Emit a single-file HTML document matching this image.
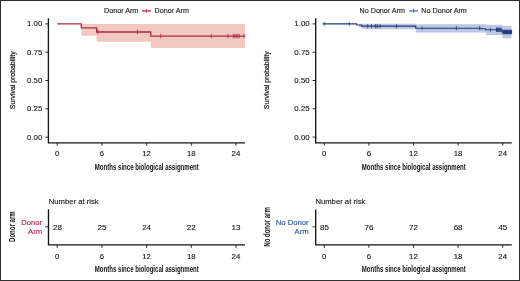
<!DOCTYPE html>
<html>
<head>
<meta charset="utf-8">
<title>Survival probability</title>
<style>
html,body{margin:0;padding:0;background:#fff;}
body{width:520px;height:281px;overflow:hidden;font-family:"Liberation Sans",sans-serif;}
svg{display:block;will-change:transform;}
text{font-family:"Liberation Sans",sans-serif;}
.t{font-size:7.8px;fill:#151515;letter-spacing:0.05px;stroke:#151515;stroke-width:0.12px;}
.n{font-size:8px;fill:#151515;stroke:#151515;stroke-width:0.12px;}
.c{font-size:9px;fill:#111;font-weight:bold;}
.y{font-size:7.7px;fill:#111;stroke:#111;stroke-width:0.2px;}
.ax{stroke:#151515;stroke-width:1.35;fill:none;}
.tk{stroke:#151515;stroke-width:0.9;fill:none;}
</style>
</head>
<body>
<svg width="520" height="281" viewBox="0 0 520 281">
<rect x="0" y="0" width="520" height="281" fill="#fff"/>

<!-- ================= LEFT PLOT ================= -->
<!-- CI band -->
<path d="M81.3,24.1 H245 V47.9 H150.8 V41.8 H96.6 V35.8 H81.3 Z" fill="#f1c9c1"/>
<!-- KM curve -->
<path d="M57.2,23.9 H81.3 V27.9 H96.6 V32 H150.8 V36.2 H245.3" fill="none" stroke="#a82a42" stroke-width="1.3"/>
<!-- censor marks -->
<g stroke="#a82a42" stroke-width="0.8">
<path d="M98,29.7v4.4 M137.5,29.7v4.4 M160.7,33.9v4.4 M211.3,33.9v4.4 M228,33.9v4.4 M233.3,33.9v4.4 M234.8,33.9v4.4 M236.3,33.9v4.4 M237.8,33.9v4.4 M239.2,33.9v4.4 M243.9,33.9v4.4"/>
</g>
<!-- axes -->
<path class="ax" d="M48.4,18.2 V142.9 H245"/>
<path class="tk" d="M45.3,23.9H48 M45.3,52.2H48 M45.3,80.5H48 M45.3,108.8H48 M45.3,137.2H48"/>
<path class="tk" d="M57.2,143v2.7 M101.9,143v2.7 M146.6,143v2.7 M191.3,143v2.7 M236,143v2.7"/>
<g class="t" text-anchor="end">
<text x="42.3" y="26.4">1.00</text>
<text x="42.3" y="54.7">0.75</text>
<text x="42.3" y="83">0.50</text>
<text x="42.3" y="111.3">0.25</text>
<text x="42.3" y="139.6">0.00</text>
</g>
<g class="t" text-anchor="middle">
<text x="57.2" y="156.1">0</text>
<text x="101.9" y="156.1">6</text>
<text x="146.6" y="156.1">12</text>
<text x="191.3" y="156.1">18</text>
<text x="236" y="156.1">24</text>
</g>
<text class="c" x="94.8" y="169.5" textLength="104" lengthAdjust="spacingAndGlyphs">Months since biological assignment</text>
<text class="y" transform="translate(14.5,109.2) rotate(-90)" textLength="57.8" lengthAdjust="spacingAndGlyphs">Survival probability</text>
<!-- legend -->
<text class="t" x="104" y="13.2" style="font-size:7.2px;letter-spacing:0">Donor Arm</text>
<path d="M142,10.9H151" stroke="#c8143f" stroke-width="1.2"/>
<path d="M146.5,9v3.8" stroke="#b01038" stroke-width="0.7"/>
<text class="t" x="154.6" y="13.2" style="font-size:7.2px;letter-spacing:0">Donor Arm</text>

<!-- left risk table -->
<text class="n" x="48.7" y="203.7" style="font-size:7.7px">Number at risk</text>
<path class="ax" d="M48.5,209.2 V244.9 H245"/>
<path class="tk" d="M45.3,226.8H48"/>
<path class="tk" d="M57.2,244.9v2.9 M101.9,244.9v2.9 M146.6,244.9v2.9 M191.3,244.9v2.9 M236,244.9v2.9"/>
<g class="n" text-anchor="middle">
<text x="57.4" y="229.8">28</text>
<text x="101.9" y="229.8">25</text>
<text x="146.6" y="229.8">24</text>
<text x="191.3" y="229.8">22</text>
<text x="236" y="229.8">13</text>
</g>
<g class="t" text-anchor="middle">
<text x="57.2" y="258.6">0</text>
<text x="101.9" y="258.6">6</text>
<text x="146.6" y="258.6">12</text>
<text x="191.3" y="258.6">18</text>
<text x="236" y="258.6">24</text>
</g>
<text class="c" x="94.8" y="271.8" textLength="104" lengthAdjust="spacingAndGlyphs">Months since biological assignment</text>
<g text-anchor="end" style="font-size:7.7px;fill:#b32a50;stroke:#b32a50;stroke-width:0.15px">
<text x="42.2" y="225">Donor</text>
<text x="42.2" y="234.3">Arm</text>
</g>
<text class="c" transform="translate(15,242) rotate(-90)" textLength="30.7" lengthAdjust="spacingAndGlyphs">Donor arm</text>

<!-- ================= RIGHT PLOT ================= -->
<!-- CI band -->
<path d="M359,23.7 H416 V24.2 H486 V24.8 H502.5 V26.1 H511.5 V38.2 H502.5 V35 H486 V32.5 H416 V29.2 H361.6 V27.2 H359 Z" fill="#bdc7e3"/>
<!-- KM curve -->
<path d="M322.6,23.9 H356.7 V25 H361.6 V26.1 H415.8 V28.2 H481 V28.7 H485.5 V29.8 H502 V32 H512.3" fill="none" stroke="#1f3876" stroke-width="1.1"/>
<g stroke="#1f3876" stroke-width="0.8">
<path d="M324.3,21.9v4 M349.2,21.9v4 M367.7,24.1v4.2 M371.5,24.1v4.2 M375.4,24.1v4.2 M377.2,24.1v4.2 M380,24.1v4.2 M396.5,24.1v4.2 M421.9,26.2v4 M456.4,26.2v4 M479.6,26.2v4 M490.4,27.8v4"/>
<path stroke-width="1" d="M496.6,27.6v4.4 M497.7,27.6v4.4 M498.8,27.6v4.4 M499.9,27.6v4.4 M501,27.6v4.4"/>
<path stroke-width="1.1" d="M503,29.8v4.4 M504.2,29.8v4.4 M505.4,29.8v4.4 M506.6,29.8v4.4 M507.8,29.8v4.4 M509,29.8v4.4 M510.2,29.8v4.4 M511.3,29.8v4.4"/>
</g>
<!-- axes -->
<path class="ax" d="M315.7,18.2 V142.9 H511.8"/>
<path class="tk" d="M312.6,23.9H315.3 M312.6,52.2H315.3 M312.6,80.5H315.3 M312.6,108.8H315.3 M312.6,137.1H315.3"/>
<path class="tk" d="M324.3,142.9v2.7 M368.9,142.9v2.7 M413.5,142.9v2.7 M458.1,142.9v2.7 M502.7,142.9v2.7"/>
<g class="t" text-anchor="end">
<text x="309.7" y="26.4">1.00</text>
<text x="309.7" y="54.7">0.75</text>
<text x="309.7" y="83">0.50</text>
<text x="309.7" y="111.3">0.25</text>
<text x="309.7" y="139.5">0.00</text>
</g>
<g class="t" text-anchor="middle">
<text x="324.3" y="156.1">0</text>
<text x="368.9" y="156.1">6</text>
<text x="413.5" y="156.1">12</text>
<text x="458.1" y="156.1">18</text>
<text x="502.7" y="156.1">24</text>
</g>
<text class="c" x="361.8" y="169.5" textLength="104" lengthAdjust="spacingAndGlyphs">Months since biological assignment</text>
<text class="y" transform="translate(268.9,109.2) rotate(-90)" textLength="57.8" lengthAdjust="spacingAndGlyphs">Survival probability</text>
<!-- legend -->
<text class="t" x="359.5" y="13.2" style="font-size:7.2px;letter-spacing:0">No Donor Arm</text>
<path d="M409.2,10.9H418" stroke="#365f9e" stroke-width="1.15"/>
<path d="M413.5,9v3.8" stroke="#2a4a85" stroke-width="0.7"/>
<text class="t" x="421.3" y="13.2" style="font-size:7.2px;letter-spacing:0">No Donor Arm</text>

<!-- right risk table -->
<text class="n" x="315.4" y="203.7" style="font-size:7.7px">Number at risk</text>
<path class="ax" d="M315.7,209.4 V244.9 H511.8"/>
<path class="tk" d="M312.6,226.8H315.3"/>
<path class="tk" d="M324.3,244.9v2.9 M368.9,244.9v2.9 M413.5,244.9v2.9 M458.1,244.9v2.9 M502.7,244.9v2.9"/>
<g class="n" text-anchor="middle">
<text x="324.5" y="229.8">85</text>
<text x="368.9" y="229.8">76</text>
<text x="413.5" y="229.8">72</text>
<text x="458.1" y="229.8">68</text>
<text x="502.7" y="229.8">45</text>
</g>
<g class="t" text-anchor="middle">
<text x="324.3" y="258.6">0</text>
<text x="368.9" y="258.6">6</text>
<text x="413.5" y="258.6">12</text>
<text x="458.1" y="258.6">18</text>
<text x="502.7" y="258.6">24</text>
</g>
<text class="c" x="361.8" y="271.8" textLength="104" lengthAdjust="spacingAndGlyphs">Months since biological assignment</text>
<g text-anchor="end" style="font-size:7.7px;fill:#2f5796;stroke:#2f5796;stroke-width:0.15px">
<text x="308.6" y="225">No Donor</text>
<text x="308.6" y="234.3">Arm</text>
</g>
<text class="c" transform="translate(269.8,246.7) rotate(-90)" textLength="39.5" lengthAdjust="spacingAndGlyphs">No donor arm</text>

<!-- outer border -->
<rect x="0.5" y="0.5" width="519" height="280" fill="none" stroke="#303030" stroke-width="1"/>
</svg>
</body>
</html>
